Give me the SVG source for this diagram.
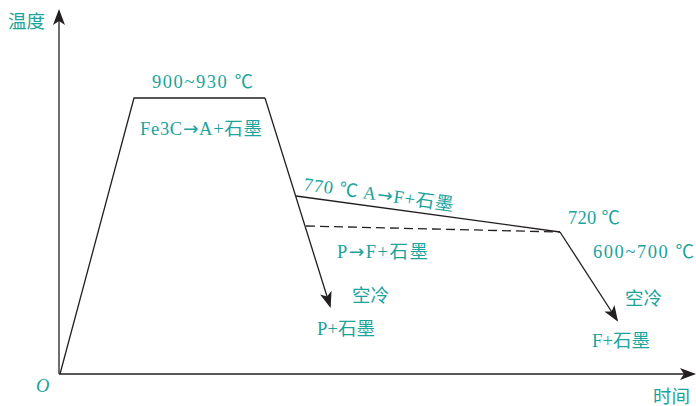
<svg xmlns="http://www.w3.org/2000/svg" width="696" height="406" viewBox="0 0 696 406">
<style>
.t{font-family:"Liberation Serif","Noto Sans CJK SC",serif;font-size:18.5px;fill:#1ba39c}
.ar{font-family:"DejaVu Sans",sans-serif}
.ln{stroke:#231f20;stroke-width:1.3;fill:none}
.ds{stroke:#231f20;stroke-width:1.3;fill:none;stroke-dasharray:9 5}
</style>
<defs>
<marker id="ah" markerWidth="16" markerHeight="12" refX="14" refY="6" orient="auto" markerUnits="userSpaceOnUse">
<path d="M0,0 L16,6 L0,12 L4,6 Z" fill="#231f20"/>
</marker>
</defs>
<g id="axes">
<line class="ln" x1="59" y1="374" x2="59" y2="11" marker-end="url(#ah)"/>
<line class="ln" x1="59" y1="374" x2="694" y2="374" marker-end="url(#ah)"/>
</g>
<g id="connectors">
<polyline class="ln" points="60,374 134,98 265,98"/>
<line class="ln" x1="265" y1="98" x2="330" y2="306" marker-end="url(#ah)"/>
<polyline class="ln" points="296,196 560,232"/>
<line class="ln" x1="560" y1="232" x2="617" y2="320" marker-end="url(#ah)"/>
<line class="ds" x1="306" y1="226" x2="560" y2="232"/>
</g>
<g id="labels">
<text class="t" x="8" y="28">温度</text>
<text class="t" x="152" y="88" textLength="101">900~930 ℃</text>
<text class="t" x="140" y="135" textLength="122">Fe3C<tspan class="ar">→</tspan>A+石墨</text>
<text class="t" x="303" y="190" textLength="151" transform="rotate(8 303 190)">770 ℃ A<tspan class="ar">→</tspan>F+石墨</text>
<text class="t" x="337" y="258" textLength="91">P<tspan class="ar">→</tspan>F+石墨</text>
<text class="t" x="352" y="302">空冷</text>
<text class="t" x="317" y="335" textLength="58">P+石墨</text>
<text class="t" x="568" y="224" textLength="52">720 ℃</text>
<text class="t" x="593" y="258" textLength="101">600~700 ℃</text>
<text class="t" x="625" y="305">空冷</text>
<text class="t" x="592" y="347" textLength="58">F+石墨</text>
<text class="t" x="36" y="392" font-style="italic">O</text>
<text class="t" x="653" y="403">时间</text>
</g>
</svg>
